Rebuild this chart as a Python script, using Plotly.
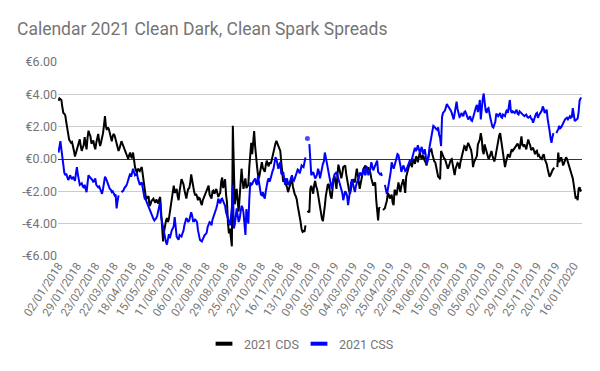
import pandas as pd
import plotly.graph_objects as go

title = "Calendar 2021 Clean Dark, Clean Spark Spreads"
series_names = ["2021 CDS", "2021 CSS"]
start_date = "2018-01-02"

cds = [
    3.6, 3.75, 3.7, 3.65, 3.2, 2.85, 2.8, 2.7, 2.3, 1.9,
    1.45, 1.2, 1.1, 1.0, 1.05, 0.85, 0.5, 0.15, 0.35, 0.55,
    0.85, 1.0, 1.22, 0.8, 0.5, 0.7, 0.85, 1.35, 1.0, 0.6,
    1.3, 1.75, 1.55, 1.4, 0.95, 1.1, 1.15, 0.8, 0.6, 1.0,
    1.2, 1.55, 1.1, 0.8, 1.05, 1.25, 1.6, 2.1, 2.65, 2.0,
    1.8, 1.95, 1.85, 1.6, 1.3, 1.1, 1.4, 1.55, 1.45, 1.2,
    0.9, 0.7, 0.5, 0.65, 0.85, 1.1, 0.95, 0.8, 0.6, 0.5,
    0.35, 0.2, 0.0, 0.25, 0.4, 0.15, 0.05, 0.4, -0.1, -0.5,
    -0.7, -0.85, -0.6, -0.65, -0.75, -0.6, -0.5, -0.95, -1.4, -2.0,
    -2.3, -2.45, -2.4, -2.3, -2.9, -2.8, -2.6, -2.5, -2.45, -2.6,
    -2.7, -2.5, -2.6, -2.75, -2.5, -2.35, -3.3, -4.2, -5.1, -4.5,
    -4.1, -3.8, -3.65, -3.9, -3.7, -3.3, -2.8, -2.4, -1.9, -1.65,
    -2.1, -2.0, -1.85, -2.3, -2.55, -2.0, -1.7, -1.25, -1.4, -1.55,
    -1.9, -2.2, -2.45, -2.1, -1.85, -1.8, -1.5, -0.95, -1.4, -1.85,
    -2.0, -2.25, -2.15, -2.3, -2.55, -2.4, -2.45, -2.7, -2.85, -2.55,
    -2.4, -2.25, -2.1, -2.0, -1.75, -1.65, -2.2, -2.3, -2.45, -2.0,
    -1.95, -2.15, -2.0, -1.85, -2.1, -2.35, -2.2, -2.1, -1.4, -1.15,
    -1.8, -1.5, -1.25, -2.2, -2.7, -4.0, -4.6, -4.3, -5.0, -5.4,
    2.05, -1.0, -2.8, -2.3, -1.85, -2.6, -3.25, -2.4, -1.5, -0.6,
    -1.3, -1.85, -1.5, -1.2, -1.8, -1.7, -1.6, -0.5, 0.1, 1.0,
    0.3, 0.9, 1.73, 0.8, -0.1, -0.45, -1.0, -1.2, -0.85, -0.5,
    -0.2, -0.55, -0.65, -0.8, -0.4, -0.1, -0.3, -0.45, -0.2, -0.3,
    -0.1, 0.2, 0.5, 0.75, 0.95, 1.12, 0.95, 0.8, 0.6, 0.5,
    -0.2, -0.8, -1.4, -1.3, -1.2, -1.6, -1.75, -2.05, -1.8, -1.6,
    -1.45, -1.2, -1.7, -2.05, -2.2, -2.3, -2.5, -2.9, -3.2, -3.45,
    -3.9, -4.35, -4.5, -4.45, -4.5, -4.1, None, -3.3, -3.25, -3.3,
    -1.85, -1.65, -1.9, -2.15, -1.6, -1.35, -1.7, -1.85, -2.2, -2.6,
    -3.15, -3.5, -3.7, -3.85, -3.5, -2.9, -2.3, -1.85, -1.6, -1.55,
    -2.0, -2.3, -2.45, -1.7, -1.2, -1.05, -1.4, -1.85, -1.0, -0.35,
    -0.6, -0.85, -1.2, -0.9, -0.5, -0.45, -0.4, -0.9, -1.3, -1.8,
    -1.95, -2.15, -1.9, -1.6, -1.25, -1.35, -1.45, -1.0, -0.6, -0.95,
    -1.3, -1.85, -1.5, -1.2, -0.8, -0.6, -0.5, -0.4, -0.8, -0.55,
    -0.55, -0.7, -0.85, -1.2, -1.4, -1.65, -1.5, -1.45, -2.5, -3.4,
    -3.8, -3.0, -3.05, None, None, -3.15, -3.1, -3.05, -2.8, -2.6,
    -2.1, -2.2, -2.45, -2.3, -2.2, -2.7, -2.85, -1.9, -2.0, -2.25,
    -1.7, -1.45, -1.8, -2.05, -1.65, -1.4, -1.25, -1.7, -2.1, -1.1,
    -0.8, -0.55, -0.4, -0.2, -0.35, -0.5, 0.0, -0.1, -0.3, 0.15,
    0.1, -0.2, 0.1, 0.4, 0.15, 0.0, 0.2, 0.15, -0.1, -0.2,
    -0.4, -0.1, 0.2, 0.45, 0.55, 0.6, 0.3, 0.0, -0.15, -0.2,
    -0.5, -0.8, -1.1, -1.15, -1.25, 0.5, 0.3, 0.1, 0.05, 0.0,
    -0.2, -0.35, -0.6, -0.45, -0.2, -0.05, 0.0, -0.4, -0.7, -1.0,
    -0.6, -0.4, -0.25, -0.3, -0.6, -0.2, 0.1, 0.4, 0.6, 0.8,
    0.75, 0.5, 0.8, 1.0, 0.85, 0.7, 0.55, 0.2, -0.5, -0.2,
    -0.1, 0.05, 0.2, 0.9, 1.05, 1.2, 1.6, 1.25, 0.5, 0.3,
    0.9, 0.7, 0.5, 0.2, 0.0, 0.1, 0.3, 0.5, 0.2, 0.0,
    -0.15, 0.1, 0.5, 0.9, 1.2, 1.45, 1.6, 1.2, 0.9, 0.5,
    0.0, -0.5, -0.2, 0.05, 0.3, 0.2, 0.1, 0.4, 0.6, 0.5,
    0.6, 0.7, 0.75, 0.85, 0.95, 0.8, 0.6, 1.0, 1.4, 0.85,
    0.8, 0.9, 0.75, 0.6, 0.95, 1.2, 1.0, 0.85, 0.55, 0.6,
    0.7, 0.5, 0.3, 0.45, 0.5, 0.2, 0.25, 0.1, 0.05, 0.0,
    0.2, 0.3, 0.0, -0.15, -0.3, -0.6, -0.85, -1.1, -1.0, -0.8,
    -0.7, -0.6, -0.55, None, None, -0.5, 0.4, -0.2, -0.05, 0.1,
    -0.1, -0.4, -0.25, -0.1, 0.1, 0.0, -0.2, -0.4, -0.6, -0.95,
    -1.05, -1.2, -1.6, -2.05, -2.45, -2.3, -2.55, -1.85, -1.75, -1.95,
    -1.9,
]

css = [
    0.4, 0.7, 1.1, 0.6, 0.0, -0.5, -0.85, -1.0, -0.9, -1.1,
    -1.3, -1.2, -1.0, -1.15, -1.25, -1.1, -1.2, -1.35, -0.9, -0.5,
    -0.95, -1.45, -1.6, -1.55, -1.5, -1.7, -1.75, -1.6, -1.8, -2.05,
    -1.5, -1.0, -1.1, -1.15, -1.25, -1.3, -1.45, -1.3, -1.2, -1.6,
    -1.65, -1.75, -1.7, -1.85, -2.0, -2.15, -1.85, -1.5, -1.1, -1.2,
    -1.35, -1.6, -1.7, -1.85, -1.9, -2.05, -2.0, -2.15, -2.25, -2.2,
    -3.05, -2.6, -2.25, None, None, -2.05, -2.0, -1.95, -1.8, -1.75,
    -1.65, -1.5, -1.25, -1.05, -0.9, -1.1, -0.85, -0.6, -0.8, -1.0,
    -0.95, -0.9, -1.2, -1.4, -1.6, -1.5, -1.45, -1.8, -2.1, -2.45,
    -2.5, -2.65, -2.9, -3.05, -3.2, -3.3, -3.4, -3.55, -3.7, -3.8,
    -3.75, -3.65, -3.5, -3.25, -2.9, -2.65, -3.6, -3.9, -4.4, -4.65,
    -4.9, -5.15, -5.3, -4.8, -4.65, -4.9, -4.6, -4.4, -4.3, -4.15,
    -3.6, -4.2, -4.8, -4.9, -5.0, -4.7, -4.75, -4.8, -4.6, -4.45,
    -4.1, -3.9, -3.65, -3.75, -3.9, -3.8, -3.6, -3.3, -3.5, -3.85,
    -3.85, -3.75, -3.8, -3.9, -4.4, -4.75, -5.0, -5.05, -5.1, -4.95,
    -4.8, -4.7, -4.65, -4.55, -4.2, -4.0, -3.9, -3.95, -4.1, -3.75,
    -3.6, -3.4, -3.3, -3.05, -2.8, -2.45, -2.6, -2.75, -2.5, -2.45,
    -2.6, -2.75, -2.9, -3.3, -3.5, -3.65, -3.85, -4.1, -3.6, -3.0,
    -1.6, -4.3, -4.05, -3.5, -3.05, -3.5, -3.9, -3.7, -3.3, -2.9,
    -3.0, -3.3, -4.0, -4.7, -3.1, -3.7, -4.0, -2.5, -1.45, -1.6,
    -1.55, -1.4, -1.3, -1.2, -1.5, -1.6, -1.05, -1.4, -1.85, -2.2,
    -2.25, -2.05, -2.3, -2.45, -2.0, -1.6, -1.35, -1.2, -1.4, -1.2,
    -0.85, -0.75, -0.6, -0.2, 0.1, 0.0, -0.3, -0.6, -0.35, -0.2,
    -0.9, -0.95, -0.8, -1.2, -1.6, -1.3, -1.2, -1.6, -1.5, -1.4,
    -1.2, -1.0, -1.3, -1.35, -1.2, -1.0, -0.8, -0.65, -0.7, -0.9,
    -0.7, -0.4, -0.45, -0.5, -0.2, 0.1, None, 1.27, None, 0.92,
    -0.4, -1.0, -0.9, -0.8, -1.0, -1.2, -1.1, -0.95, -0.6, -0.8,
    -1.2, -0.8, -0.4, -0.3, -0.15, 0.4, 0.1, -0.25, -0.7, -1.0,
    -1.2, -1.5, -1.85, -1.5, -1.2, -0.95, -0.9, -0.8, -1.0, -1.2,
    -1.45, -1.65, -1.9, -2.1, -2.55, -2.2, -2.0, -2.1, -2.3, -2.85,
    -2.3, -1.85, -1.5, -1.25, -1.6, -1.75, -2.05, -1.7, -1.4, -1.3,
    -1.2, -0.85, -0.9, -1.05, -0.8, -0.6, -0.9, -1.0, -0.45, -0.7,
    -1.0, -0.8, -0.6, -0.2, -0.45, -0.7, -0.55, -0.4, -0.2, -0.1,
    -0.8, -0.85, -0.95, -0.9, -1.05, None, None, -1.6, -1.85, -2.15,
    -1.9, -1.6, -1.3, -0.8, -0.2, -0.5, -0.6, -0.4, -0.1, 0.2,
    0.3, 0.25, 0.0, -0.4, -0.8, -0.6, -0.4, -0.55, -0.75, -0.7,
    -0.5, -0.35, -0.2, -0.05, -0.2, 0.0, 0.2, 0.45, 0.7, 0.5,
    0.6, 0.85, 0.6, 0.4, 0.55, 0.75, 0.4, 0.3, 0.6, 0.3,
    -0.3, -0.1, 0.1, 0.7, 1.0, 1.25, 1.7, 2.05, 2.0, 1.9,
    1.85, 1.8, 1.95, 1.5, 1.3, 0.8, 2.6, 2.85, 2.9, 3.0,
    3.2, 3.4, 3.3, 3.2, 3.15, 3.0, 2.85, 2.6, 2.45, 2.8,
    3.1, 3.55, 3.1, 2.85, 2.6, 2.65, 2.85, 2.75, 2.65, 2.9,
    2.95, 2.8, 2.6, 2.45, 2.55, 2.65, 2.4, 2.35, 2.55, 2.8,
    3.05, 3.2, 3.35, 2.9, 3.2, 3.65, 2.45, 3.35, 3.7, 4.05,
    3.3, 3.0, 2.85, 3.1, 3.15, 2.7, 2.5, 2.25, 2.0, 1.95,
    2.1, 2.3, 2.8, 2.7, 2.65, 2.75, 2.85, 2.6, 2.55, 2.75,
    2.7, 2.65, 2.9, 3.05, 2.85, 3.2, 3.65, 3.0, 2.85, 2.95,
    2.9, 2.85, 2.95, 3.05, 2.8, 2.75, 2.95, 2.9, 2.85, 2.8,
    2.75, 2.65, 2.7, 2.75, 2.6, 2.55, 2.6, 2.65, 2.5, 2.45,
    2.25, 2.5, 2.65, 2.8, 2.85, 2.55, 2.7, 2.85, 2.9, 3.0,
    3.25, 3.1, 2.85, 2.95, 3.05, 2.5, 2.2, 1.75, 1.3, 1.0,
    1.35, 1.6, None, None, 1.6, 1.7, 1.85, 2.05, 1.9, 1.95,
    2.1, 2.25, 2.35, 2.45, 2.5, 2.55, 2.45, 2.55, 2.65, 2.55,
    2.6, 3.15, 2.6, 2.35, 2.4, 2.45, 2.5, 2.9, 3.6, 3.75,
    3.78,
]

y_tick_values = [-6, -4, -2, 0, 2, 4, 6]
y_tick_labels = ["-€6.00", "-€4.00", "-€2.00", "€0.00", "€2.00", "€4.00", "€6.00"]
x_label_step = 19  # a label every 19 trading days
colors = ["#000000", "#0000ff"]

n = max(len(cds), len(css))
dates = pd.bdate_range(start_date, periods=n).strftime("%d/%m/%Y").tolist()
x_tick_values = dates[::x_label_step]


def isolated_sizes(vals, size=5):
    out = []
    for i, v in enumerate(vals):
        prev_none = i == 0 or vals[i - 1] is None
        next_none = i == len(vals) - 1 or vals[i + 1] is None
        out.append(size if (v is not None and prev_none and next_none) else 0)
    return out


GRAY = "#757575"
fig = go.Figure()
for name, vals, color in zip(series_names, [cds, css], colors):
    fig.add_trace(go.Scatter(
        x=dates[:len(vals)], y=vals, name=name, mode="lines+markers",
        line=dict(color=color, width=2), connectgaps=False, showlegend=False,
        marker=dict(size=isolated_sizes(vals), color=color, line=dict(width=0)),
    ))
# legend keys drawn as short thick bars, like the source chart; one legend box per series
legend_ids = ["legend", "legend2"]
for name, color, lg in zip(series_names, colors, legend_ids):
    fig.add_trace(go.Scatter(
        x=[None], y=[None], name=name, mode="markers", showlegend=True, legend=lg,
        marker=dict(symbol="line-ew", size=12, color=color, line=dict(width=4, color=color)),
    ))

legend_style = dict(orientation="h", xanchor="left", y=-0.454, yanchor="middle",
                    font=dict(size=12.5, color=GRAY), itemwidth=30,
                    bgcolor="rgba(0,0,0,0)")
fig.update_layout(
    width=600, height=371,
    margin=dict(l=58, r=18, t=62, b=113),
    paper_bgcolor="white", plot_bgcolor="white",
    font=dict(family="Roboto, Arial, sans-serif", color=GRAY),
    title=dict(text=title, x=17 / 600, xanchor="left", y=1 - 29 / 371, yanchor="middle",
               font=dict(size=17.5, color=GRAY, family="Roboto")),
    showlegend=True,
    legend=dict(x=(204 - 58) / 524, **legend_style),
    legend2=dict(x=(299 - 58) / 524, **legend_style),
    hovermode=False,
)
fig.update_xaxes(
    type="category", range=[-0.5, n - 0.5],
    tickmode="array", tickvals=x_tick_values, ticktext=x_tick_values,
    tickangle=-57, tickfont=dict(size=11.5, color=GRAY),
    showgrid=False, showline=False, ticks="", automargin=False, zeroline=False,
)
fig.update_yaxes(
    range=[-6, 6], tickmode="array", tickvals=y_tick_values, ticktext=y_tick_labels,
    tickfont=dict(size=12.5, color=GRAY), gridcolor="#cccccc", gridwidth=1,
    zeroline=True, zerolinecolor="#333333", zerolinewidth=1,
    showline=False, ticks="", automargin=False,
)
fig.write_html("out.html", config={"displayModeBar": False},
               post_script="document.body.style.margin='0';")
